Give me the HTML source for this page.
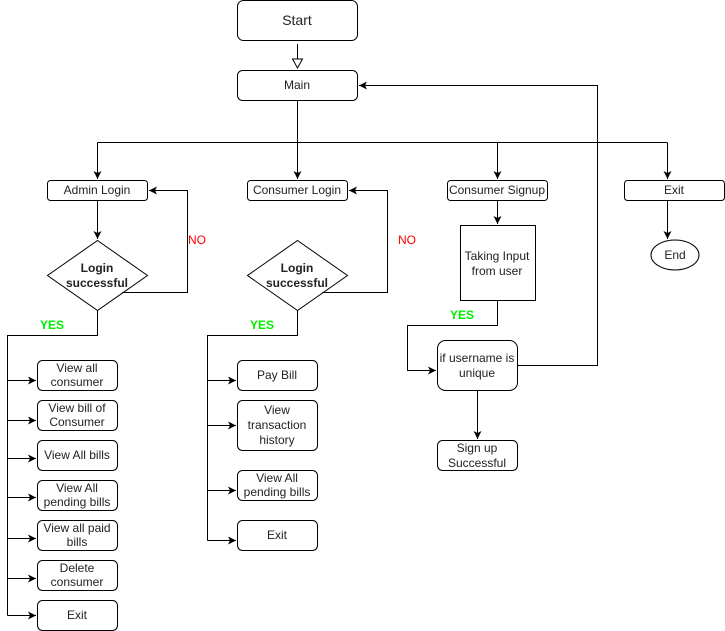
<!DOCTYPE html>
<html><head><style>body{margin:0;background:#fff}svg{display:block}text{font-family:"Liberation Sans",sans-serif;font-size:12px;fill:#222;text-anchor:middle}text.y{fill:#0e0;font-weight:bold}text.n{fill:#f00}</style></head><body>
<svg width="725" height="631" viewBox="0 0 725 631">
<defs><marker id="a" markerWidth="10" markerHeight="10" refX="8" refY="5" orient="auto" markerUnits="userSpaceOnUse"><path d="M0,1 L8,5 L0,9 L2,5 z" fill="#000"/></marker></defs>
<g fill="#fff" stroke="#000" stroke-width="1">
<rect x="237.5" y="0.5" width="120" height="40" rx="6"/>
<rect x="237.5" y="70.5" width="120" height="30" rx="5"/>
<rect x="47.5" y="180.5" width="100" height="20" rx="3"/>
<rect x="247.5" y="180.5" width="100" height="20" rx="3"/>
<rect x="447.5" y="180.5" width="100" height="20" rx="3"/>
<rect x="624.5" y="180.5" width="100" height="20" rx="3"/>
<polygon points="97.5,240.5 147.5,275.5 97.5,310.5 47.5,275.5"/>
<polygon points="297.5,240.5 347.5,275.5 297.5,310.5 247.5,275.5"/>
<rect x="460.5" y="225.5" width="75" height="75"/>
<rect x="437.5" y="340.5" width="80" height="50" rx="8"/>
<rect x="437.5" y="440.5" width="80" height="30" rx="5"/>
<ellipse cx="675" cy="255" rx="24" ry="15"/>
<rect x="37.5" y="360.5" width="80" height="30" rx="5"/>
<rect x="37.5" y="400.5" width="80" height="30" rx="5"/>
<rect x="37.5" y="440.5" width="80" height="30" rx="5"/>
<rect x="37.5" y="480.5" width="80" height="30" rx="5"/>
<rect x="37.5" y="520.5" width="80" height="30" rx="5"/>
<rect x="37.5" y="560.5" width="80" height="30" rx="5"/>
<rect x="37.5" y="600.5" width="80" height="30" rx="5"/>
<rect x="237.5" y="360.5" width="80" height="30" rx="5"/>
<rect x="237.5" y="400.5" width="80" height="50" rx="5"/>
<rect x="237.5" y="470.5" width="80" height="30" rx="5"/>
<rect x="237.5" y="520.5" width="80" height="30" rx="5"/>
</g>
<path d="M297.5,44 V59" stroke="#000"/><path d="M292.5,59 L302.5,59 L297.5,68 z" fill="#fff" stroke="#000"/>
<g fill="none" stroke="#000" stroke-width="1">
<path d="M297.5,100 V142.5 M97.5,142.5 H667.5"/>
<path d="M97.5,142.5 V179" marker-end="url(#a)"/>
<path d="M297.5,142.5 V179" marker-end="url(#a)"/>
<path d="M497.5,142.5 V179" marker-end="url(#a)"/>
<path d="M667.5,142.5 V179" marker-end="url(#a)"/>
<path d="M517,365.5 H597.5 V85.5 H359" marker-end="url(#a)"/>
<path d="M97.5,200 V239" marker-end="url(#a)"/>
<path d="M122,292.5 H187.5 V190.5 H149" marker-end="url(#a)"/>
<path d="M322,292.5 H387.5 V190.5 H349" marker-end="url(#a)"/>
<path d="M97.5,310 V335.5 H7.5 V615.5"/>
<path d="M7.5,380.5 H36" marker-end="url(#a)"/>
<path d="M7.5,420.5 H36" marker-end="url(#a)"/>
<path d="M7.5,458.5 H36" marker-end="url(#a)"/>
<path d="M7.5,497.5 H36" marker-end="url(#a)"/>
<path d="M7.5,538.5 H36" marker-end="url(#a)"/>
<path d="M7.5,578.5 H36" marker-end="url(#a)"/>
<path d="M7.5,615.5 H36" marker-end="url(#a)"/>
<path d="M297.5,310 V335.5 H207.5 V540.5"/>
<path d="M207.5,380.5 H236" marker-end="url(#a)"/>
<path d="M207.5,425.5 H236" marker-end="url(#a)"/>
<path d="M207.5,490.5 H236" marker-end="url(#a)"/>
<path d="M207.5,540.5 H236" marker-end="url(#a)"/>
<path d="M497.5,200 V224" marker-end="url(#a)"/>
<path d="M497.5,300 V325.5 H407.5 V370.5 H436" marker-end="url(#a)"/>
<path d="M477.5,390 V439" marker-end="url(#a)"/>
<path d="M667.5,200 V239" marker-end="url(#a)"/>
</g>
<text x="297" y="25" style="font-size:14px">Start</text>
<text x="297" y="89">Main</text>
<text x="97" y="194">Admin Login</text>
<text x="297" y="194">Consumer Login</text>
<text x="497" y="194">Consumer Signup</text>
<text x="674" y="194">Exit</text>
<text x="675" y="259">End</text>
<g style="font-weight:bold"><text x="97" y="272">Login</text><text x="97" y="287">successful</text>
<text x="297" y="272">Login</text><text x="297" y="287">successful</text></g>
<text x="197" y="244" class="n">NO</text>
<text x="407" y="244" class="n">NO</text>
<text x="52" y="329" class="y">YES</text><text x="262" y="329" class="y">YES</text><text x="462" y="319" class="y">YES</text>
<text x="497" y="260">Taking Input</text><text x="497" y="275">from user</text>
<text x="477" y="362">if username is</text><text x="477" y="377">unique</text>
<text x="477" y="452">Sign up</text><text x="477" y="467">Successful</text>
<text x="77" y="372">View all</text><text x="77" y="386">consumer</text>
<text x="77" y="412">View bill of</text><text x="77" y="426">Consumer</text>
<text x="77" y="459">View All bills</text>
<text x="77" y="492">View All</text><text x="77" y="506">pending bills</text>
<text x="77" y="532">View all paid</text><text x="77" y="546">bills</text>
<text x="77" y="572">Delete</text><text x="77" y="586">consumer</text>
<text x="77" y="619">Exit</text>
<text x="277" y="379">Pay Bill</text>
<text x="277" y="414">View</text><text x="277" y="429">transaction</text><text x="277" y="444">history</text>
<text x="277" y="482">View All</text><text x="277" y="496">pending bills</text>
<text x="277" y="539">Exit</text>
</svg></body></html>
